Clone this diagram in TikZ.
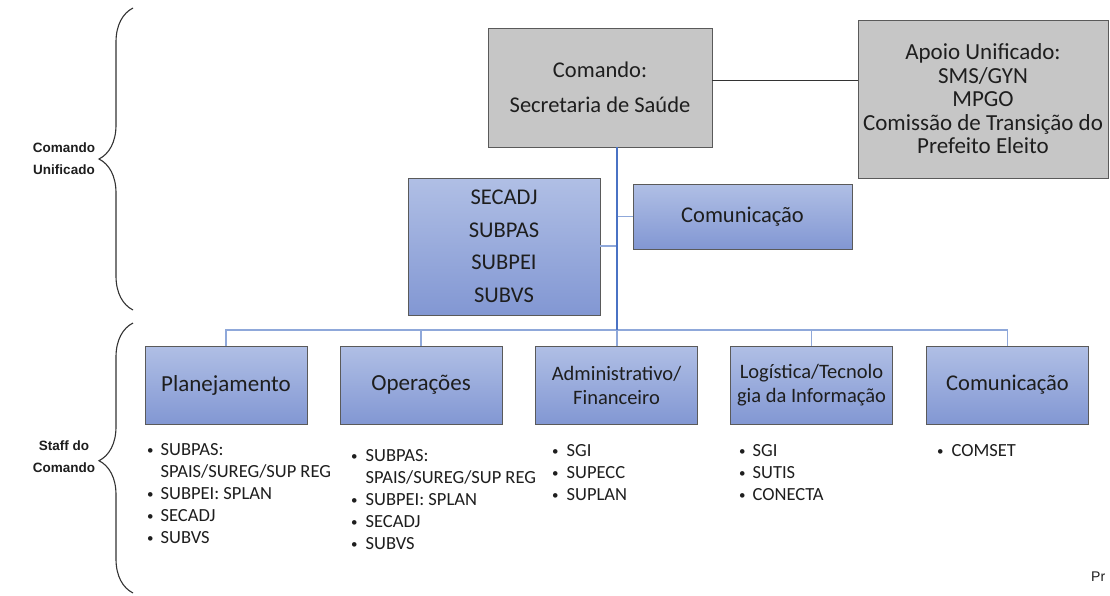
\documentclass[tikz,border=0pt]{standalone}
\usepackage{fontspec}
\setmainfont{Carlito}
\newfontfamily\arialf{Liberation Sans}
\usetikzlibrary{decorations.pathreplacing}
\definecolor{bluetop}{HTML}{B0BFE5}
\definecolor{bluebot}{HTML}{8297D3}
\definecolor{edgeg}{HTML}{5A5A5A}
\definecolor{grayfill}{HTML}{C6C6C6}
\definecolor{mainline}{HTML}{4A72C4}
\definecolor{busline}{HTML}{8FA8DA}
\definecolor{txt}{HTML}{1E1E1E}
\begin{document}
\begin{tikzpicture}[x=1pt,y=-1pt,
  bluebox/.style={draw=edgeg, line width=0.8pt, top color=bluetop, bottom color=bluebot, inner sep=0pt, align=center, text=txt},
  graybox/.style={draw=edgeg, fill=grayfill, line width=0.8pt, inner sep=0pt, align=center, text=txt},
  mainconn/.style={draw=mainline, line width=1.6pt},
  busconn/.style={draw=busline, line width=1.4pt},
  sideconn/.style={draw=busline, line width=1.4pt},
  blackconn/.style={draw=black!80, line width=1pt},
  bracestyle/.style={draw=black!80, line width=1.1pt, decorate, decoration={brace, amplitude=34pt}},
  sidelabel/.style={font=\arialf\bfseries\fontsize{13.5}{22.5}\selectfont, align=center, text=txt},
  listnode/.style={anchor=north west, inner sep=0pt, align=left, text=txt, font=\fontsize{18.5}{22}\selectfont}
]
\useasboundingbox (0,0) rectangle (1110,595);
\fill[white] (0,0) rectangle (1110,595);

% braces
\draw[bracestyle, decoration={aspect=0.5}] (133,310) -- (133,8);
\draw[bracestyle, decoration={aspect=0.49}] (133,593) -- (133,323);
\node[sidelabel] (lblcu) at (64,158.5) {Comando\\Unificado};
\node[sidelabel] (lblsc) at (64,456.5) {Staff do\\Comando};

% top boxes
\node[graybox, minimum width=224pt, minimum height=119pt, font=\fontsize{22.5}{35}\selectfont] (cmd) at (600,87.5) {Comando:\\Secretaria de Saúde};
\node[graybox, minimum width=250pt, minimum height=158pt, font=\fontsize{23}{23.5}\selectfont] (apoio) at (983,99) {Apoio Unificado:\\SMS/GYN\\MPGO\\Comissão de Transição do\\Prefeito Eleito};
\node[bluebox, minimum width=192pt, minimum height=137pt, font=\fontsize{22.5}{32.5}\selectfont] (sec) at (504,246.5) {SECADJ\\SUBPAS\\SUBPEI\\SUBVS};
\node[bluebox, minimum width=219pt, minimum height=65pt, font=\fontsize{22.5}{24}\selectfont] (com1) at (742.5,216.5) {Comunicação};

% staff boxes
\node[bluebox, minimum width=162pt, minimum height=78pt, font=\fontsize{23}{24}\selectfont] (plan) at (226,385) {Planejamento};
\node[bluebox, minimum width=162pt, minimum height=78pt, font=\fontsize{23}{24}\selectfont] (oper) at (421,385) {Operações};
\node[bluebox, minimum width=162pt, minimum height=78pt, font=\fontsize{20.5}{24}\selectfont] (adm) at (616.5,385) {Administrativo/\\Financeiro};
\node[bluebox, minimum width=162pt, minimum height=78pt, font=\fontsize{20.5}{24}\selectfont] (log) at (811.5,385) {Logística/Tecnolo\\gia da Informação};
\node[bluebox, minimum width=162pt, minimum height=78pt, font=\fontsize{22.5}{24}\selectfont] (com2) at (1007.5,385) {Comunicação};

% connectors
\coordinate (cb) at (617,147);
\coordinate (j) at (617,330);
\path[blackconn] (cmd.east |- 0,80) -- (apoio.west |- 0,80);
\path[sideconn] (sec.east |- 0,246) -- (617,246);
\path[sideconn] (com1.west) -- (com1.west -| j);
\path[busconn] (j) -| (plan.north);
\path[busconn] (j) -| (oper.north);
\path[busconn] (j) -| (log.north);
\path[busconn] (j) -| (com2.north);
\path[busconn] (j) -- (j |- adm.north);
\path[mainconn] (cb) -- (j);

% lists
\newcommand{\bl}{\raisebox{0.15ex}{\scalebox{0.7}{\textbullet}}}
\node[listnode] (lplan) at (147,440) {\begin{tabular}{@{}l@{\hspace{7pt}}l@{}}\bl & SUBPAS:\\ & SPAIS/SUREG/SUP REG\\ \bl & SUBPEI: SPLAN\\ \bl & SECADJ\\ \bl & SUBVS\end{tabular}};
\node[listnode] (loper) at (351,446) {\begin{tabular}{@{}l@{\hspace{8pt}}l@{}}\bl & SUBPAS:\\ & SPAIS/SUREG/SUP REG\\ \bl & SUBPEI: SPLAN\\ \bl & SECADJ\\ \bl & SUBVS\end{tabular}};
\node[listnode] (ladm) at (552,441) {\begin{tabular}{@{}l@{\hspace{8pt}}l@{}}\bl & SGI\\ \bl & SUPECC\\ \bl & SUPLAN\end{tabular}};
\node[listnode] (llog) at (739,441) {\begin{tabular}{@{}l@{\hspace{7pt}}l@{}}\bl & SGI\\ \bl & SUTIS\\ \bl & CONECTA\end{tabular}};
\node[listnode] (lcom) at (937,441) {\begin{tabular}{@{}l@{\hspace{8pt}}l@{}}\bl & COMSET\end{tabular}};

\node[anchor=west, inner sep=0pt, font=\arialf\fontsize{14}{15}\selectfont, text=txt] (pr) at (1091,577) {Pr};
\end{tikzpicture}
\end{document}
